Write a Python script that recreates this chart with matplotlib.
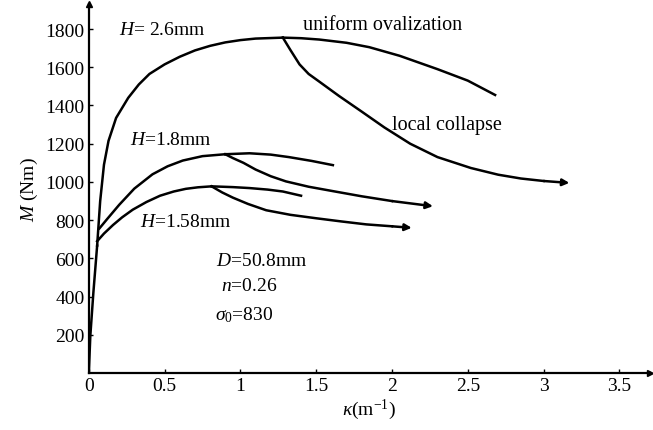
import matplotlib.pyplot as plt

plt.rcParams['font.family'] = ['Liberation Serif', 'DejaVu Serif']
plt.rcParams['mathtext.fontset'] = 'custom'
plt.rcParams['mathtext.rm'] = 'Liberation Serif'
plt.rcParams['mathtext.it'] = 'Liberation Serif:italic'

# initial elastic part shared by all tubes
k_init = [0.0, 0.01, 0.03, 0.055]
m_init = [0, 195, 420, 667]

# H = 2.6 mm
k_26 = [0.055, 0.075, 0.1, 0.13, 0.18, 0.26, 0.33, 0.4, 0.5, 0.6, 0.7, 0.8, 0.9, 1.0, 1.1, 1.28]
m_26 = [667, 900, 1090, 1215, 1335, 1440, 1510, 1565, 1615, 1655, 1688, 1712, 1730, 1742, 1750, 1755]
k_26u = [1.28, 1.4, 1.52, 1.7, 1.85, 2.05, 2.3, 2.5, 2.68]
m_26u = [1755, 1752, 1745, 1728, 1705, 1660, 1590, 1530, 1455]
k_26c = [1.28, 1.33, 1.39, 1.45, 1.52, 1.65, 1.8, 1.95, 2.12, 2.3, 2.52, 2.7, 2.85, 3.0, 3.17]
m_26c = [1755, 1690, 1615, 1565, 1525, 1450, 1368, 1285, 1200, 1130, 1073, 1038, 1018, 1005, 995]

# H = 1.8 mm
k_18 = [0.07, 0.12, 0.2, 0.3, 0.42, 0.52, 0.62, 0.75, 0.9]
m_18 = [757, 805, 880, 965, 1040, 1082, 1112, 1135, 1145]
k_18u = [0.9, 1.06, 1.2, 1.32, 1.47, 1.61]
m_18u = [1145, 1150, 1143, 1130, 1110, 1088]
k_18c = [0.9, 0.95, 1.02, 1.1, 1.2, 1.3, 1.45, 1.61, 1.8, 2.0, 2.27]
m_18c = [1145, 1125, 1100, 1065, 1030, 1003, 975, 952, 925, 900, 873]

# H = 1.58 mm
k_158 = [0.055, 0.1, 0.16, 0.22, 0.29, 0.38, 0.47, 0.56, 0.64, 0.72, 0.81]
m_158 = [690, 730, 775, 815, 855, 895, 928, 950, 964, 972, 977]
k_158u = [0.81, 0.95, 1.06, 1.18, 1.28, 1.4]
m_158u = [977, 973, 968, 960, 950, 928]
k_158c = [0.81, 0.88, 0.95, 1.05, 1.17, 1.33, 1.5, 1.67, 1.83, 2.0, 2.13]
m_158c = [977, 945, 918, 885, 852, 828, 810, 793, 778, 768, 760]

fig = plt.figure(figsize=(6.53, 4.31), dpi=100)
ax = fig.add_axes([0.136, 0.132, 0.859, 0.856])

lw = 1.8
ax.plot(k_init, m_init, color='black', lw=lw)
for k, m in [(k_26, m_26), (k_26u, m_26u), (k_18, m_18), (k_18u, m_18u),
             (k_158, m_158), (k_158u, m_158u)]:
    ax.plot(k, m, color='black', lw=lw, solid_joinstyle='round')

# collapse branches end with arrows
for k, m in [(k_26c, m_26c), (k_18c, m_18c), (k_158c, m_158c)]:
    ax.plot(k[:-1], m[:-1], color='black', lw=lw, solid_joinstyle='round')
    ax.annotate('', xy=(k[-1], m[-1]), xytext=(k[-2], m[-2]),
                arrowprops=dict(arrowstyle='-|>', color='black', lw=lw,
                                mutation_scale=10, shrinkA=0, shrinkB=0))

ax.set_xlim(0, 3.7)
ax.set_ylim(0, 1930)
ax.set_xticks([0, 0.5, 1, 1.5, 2, 2.5, 3, 3.5])
ax.set_xticklabels(['0', '0.5', '1', '1.5', '2', '2.5', '3', '3.5'])
ax.set_yticks([200, 400, 600, 800, 1000, 1200, 1400, 1600, 1800])
ax.tick_params(direction='in', length=3, width=1, labelsize=14, pad=3)

for s in ['top', 'right']:
    ax.spines[s].set_visible(False)
for s in ['left', 'bottom']:
    ax.spines[s].set_linewidth(1.6)
ax.plot(1, 0, '>k', ms=5, transform=ax.transAxes, clip_on=False)
ax.plot(0, 1, '^k', ms=5, transform=ax.transAxes, clip_on=False)

ax.set_xlabel(r'$\kappa$(m$^{-1}$)', fontsize=14, labelpad=2)
ax.set_ylabel(r'$M$ (Nm)', fontsize=14, labelpad=4)

fs = 14
ax.text(0.2, 1795, r'$H$= 2.6mm', fontsize=fs, va='center')
ax.text(1.41, 1822, 'uniform ovalization', fontsize=14.5, va='center')
ax.text(2.0, 1300, 'local collapse', fontsize=14.5, va='center')
ax.text(0.27, 1220, r'$H$=1.8mm', fontsize=fs, va='center')
ax.text(0.34, 793, r'$H$=1.58mm', fontsize=fs, va='center')
ax.text(0.84, 590, r'$D$=50.8mm', fontsize=fs, va='center')
ax.text(0.87, 457, r'$n$=0.26', fontsize=fs, va='center')
ax.text(0.83, 310, r'$\sigma_0$=830', fontsize=fs, va='center')

fig.savefig('out.png', dpi=100)
